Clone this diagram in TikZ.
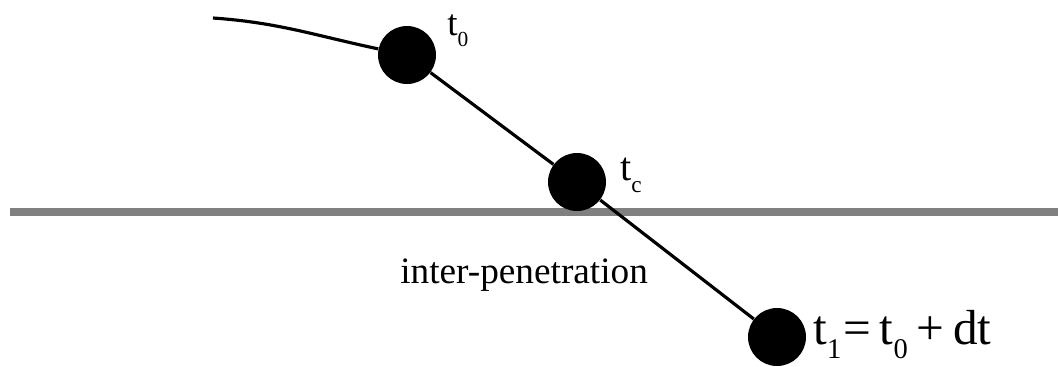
\documentclass[tikz,border=0pt]{standalone}
\usepackage{fontspec}
\setmainfont{Liberation Serif}
\usepackage{graphicx}
\usetikzlibrary{positioning}
\definecolor{contact}{HTML}{808080}
\newcommand{\lowsub}[1]{\raisebox{-0.3em}{\scalebox{0.58}{#1}}}

\begin{document}
\begin{tikzpicture}[
  particle/.style={circle,fill=black,minimum size=1.16cm,inner sep=0pt},
  stamp/.style={anchor=base west,inner sep=0pt}]
  \useasboundingbox (0,0) rectangle (21.16,7.32);

  % Contact plane
  \coordinate (planeL) at (0.2,3.08);
  \coordinate (planeR) at (21.16,3.08);
  \draw[contact,line width=4.5pt] (planeL) -- (planeR);

  % Particle at the three instants
  \node[particle] (p0) at (8.14,6.22) {};
  \node[particle] (pc) at (11.54,3.68) {};
  \node[particle] (p1) at (15.54,0.58) {};

  % Trajectory
  \coordinate (tail) at (4.26,6.96);
  \draw[line width=1.8pt] (tail) to[out=-4,in=168] (p0) -- (pc) -- (p1);

  % Labels
  \node[stamp,font=\fontsize{21}{25}\selectfont] (l0) at (8.94,6.62) {t\lowsub{0}};
  \node[stamp,font=\fontsize{22.8}{27}\selectfont] (lc) at (12.4,3.72) {t\lowsub{c}};
  \node[stamp,font=\fontsize{28}{33}\selectfont] (l1) at (16.26,0.44)
    {t\lowsub{1}\hspace{0.04em}=\hspace{0.18em}t\lowsub{0}\hspace{0.18em}+\hspace{0.18em}dt};
  \node[stamp,font=\fontsize{21.2}{25}\selectfont] (pen) at (8.0,1.66) {inter-penetration};
\end{tikzpicture}
\end{document}
